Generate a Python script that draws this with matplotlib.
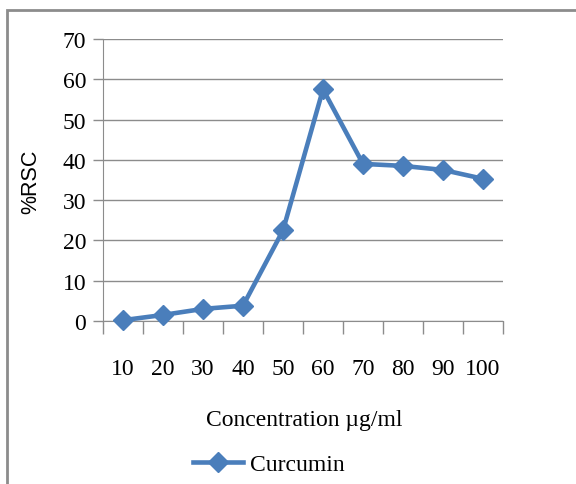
import matplotlib
matplotlib.use("Agg")
import matplotlib.pyplot as plt
from matplotlib.patches import Rectangle

concentrations = ["10", "20", "30", "40", "50", "60", "70", "80", "90", "100"]
rsc = [0.2, 1.5, 3.0, 3.8, 22.5, 57.5, 39.0, 38.5, 37.5, 35.3]
yticks = [0, 10, 20, 30, 40, 50, 60, 70]

W, H = 576, 485
fig = plt.figure(figsize=(W / 100, H / 100), dpi=100)
fig.patch.set_facecolor("white")

# outer chart frame (runs off the right and bottom edges)
fig.add_artist(Rectangle((7 / W, -0.1), 1.2, 1.1 - 11 / H, transform=fig.transFigure,
                         fill=False, edgecolor="#8c8c8c", linewidth=2.0))

ax = fig.add_axes([103 / W, 1 - 322 / H, 400 / W, 282 / H])
blue = "#4a7ebb"
x = list(range(len(concentrations)))
ax.plot(x, rsc, color=blue, linewidth=3.3, marker="D", markersize=10,
        markeredgecolor=blue, label="Curcumin", clip_on=False, zorder=3)

ax.set_xlim(-0.5, len(concentrations) - 0.5)
ax.set_ylim(0, 70)
ax.set_yticks(yticks)
ax.set_xticks([i - 0.5 for i in range(len(concentrations) + 1)], minor=False)
ax.set_xticklabels([""] * (len(concentrations) + 1))
ax.set_xticks(x, minor=True)
ax.set_xticklabels(concentrations, minor=True, fontsize=17, family="Liberation Serif")
ax.tick_params(axis="x", which="major", length=9, width=1, color="#8c8c8c", direction="out")
ax.tick_params(axis="x", which="minor", length=0, pad=27)
ax.tick_params(axis="y", length=7, width=1, color="#8c8c8c", pad=5)
for lab in ax.get_yticklabels():
    lab.set_fontsize(17)
    lab.set_family("Liberation Serif")

ax.grid(axis="y", color="#8c8c8c", linewidth=1)
ax.set_axisbelow(True)
for side in ["top", "right"]:
    ax.spines[side].set_visible(False)
ax.spines["left"].set_color("#8c8c8c")
ax.spines["bottom"].set_color("#8c8c8c")

fig.text(31 / W, 1 - 182 / H, "%RSC", rotation=90, fontsize=15.5, family="Liberation Sans",
         ha="center", va="center")
fig.text(304 / W, 1 - 421 / H, "Concentration µg/ml", fontsize=17, family="Liberation Serif",
         ha="center", va="center")

leg = fig.legend(loc="center", bbox_to_anchor=(269 / W, 1 - 465 / H), frameon=False,
                 prop={"family": "Liberation Serif", "size": 17}, handlelength=2.1,
                 handletextpad=0.3)

fig.savefig("out.png", dpi=100)
